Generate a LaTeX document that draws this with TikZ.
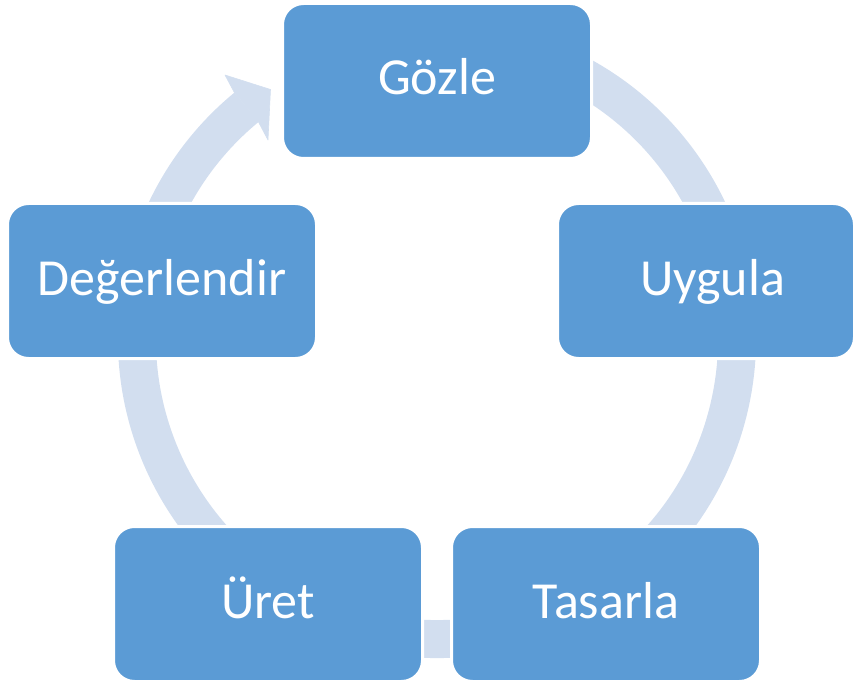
\documentclass[tikz,border=0pt]{standalone}
\usepackage{fontspec}
\setmainfont{Carlito}
\definecolor{boxblue}{HTML}{5B9BD5}
\definecolor{ringblue}{RGB}{210,222,239}
\begin{document}
\begin{tikzpicture}[x=1pt,y=-1pt,
  box/.style={fill=boxblue, draw=white, line width=3pt, rounded corners=21pt,
    minimum width=309pt, minimum height=155pt, inner sep=0pt,
    text=white, font=\fontsize{52}{60}\selectfont, text height=28pt, text depth=0pt},
  boxtext/.style={inner sep=0pt, text=white, font=\fontsize{52}{60}\selectfont,
    text height=28pt, text depth=0pt},
  ring/.style={draw=ringblue, line width=38pt}]
\useasboundingbox (0,0) rectangle (855,682);
\coordinate (c) at (437,339);
% circular ring
\draw[ring] (c) ++(-75:300) arc[start angle=-75, end angle=230.6, radius=300];
% arrowhead
\coordinate (ao) at (234.4,92.6);
\coordinate (ab) at (225,75);
\coordinate (at) at (270.5,89.5);
\coordinate (ai) at (268,140);
\coordinate (ar) at (258.5,122);
\filldraw[fill=ringblue, draw=ringblue, line width=0.6pt, line join=round]
  (ao) -- (ab) -- (at) -- (ai) -- (ar) -- cycle;
% boxes
\node[box] (gozle) at (437,81) {Gözle};
\node[box] (deger) at (162,281) {Değerlendir};
\node[box] (uret) at (268,604) {Üret};
\node[box] (tasarla) at (606,604) {Tasarla};
\node[box, minimum width=297pt] (uygula) at (706,281) {};
\node[boxtext] (uygulatext) at (712.5,281) {Uygula};
\end{tikzpicture}
\end{document}
